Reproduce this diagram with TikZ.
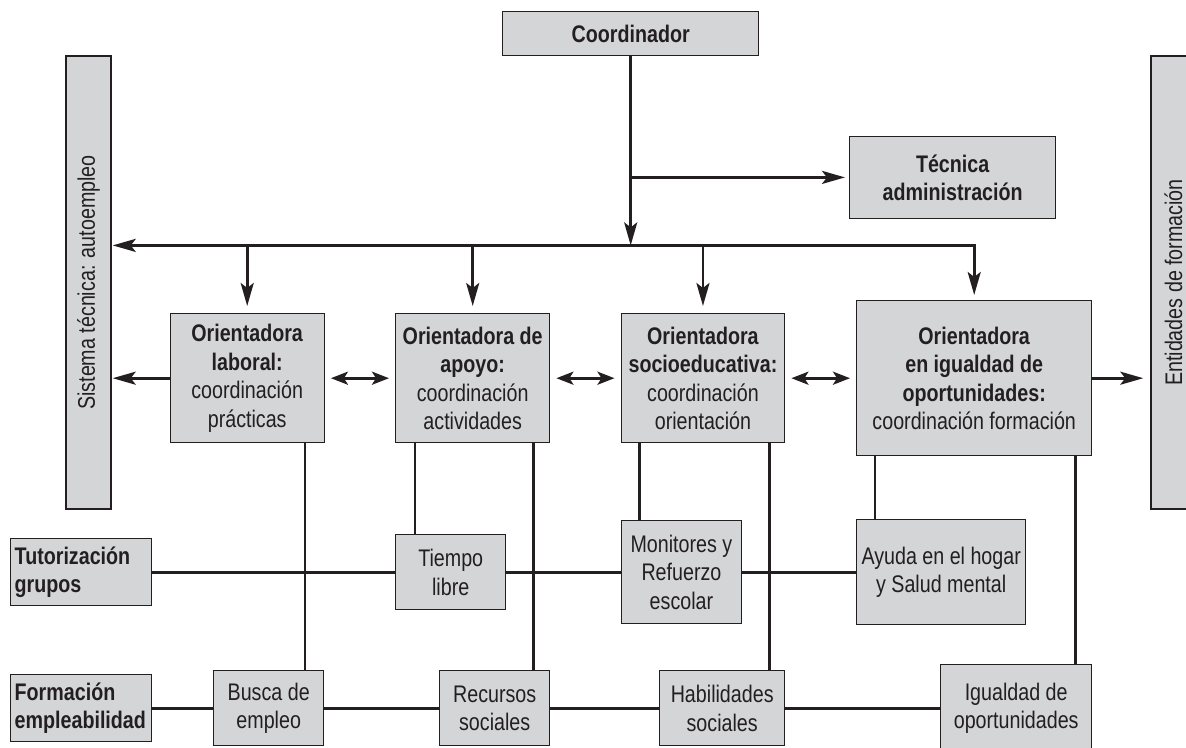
\documentclass[tikz,border=0pt]{standalone}
\usepackage{fontspec}
\setmainfont{Liberation Sans}[FakeStretch=0.82]
\usetikzlibrary{arrows.meta,calc}
\definecolor{boxgray}{HTML}{D4D5D7}
\definecolor{ink}{HTML}{231F20}

\begin{document}
\begin{tikzpicture}[x=1pt,y=-1pt,
  box/.style={draw=ink, fill=boxgray, line width=1.4pt, inner sep=0pt,
    align=center, font=\fontsize{24}{28.5}\selectfont, text=ink},
  nw/.style={anchor=north west},
  leftbox/.style={box, nw, align=left, text width=133pt, inner xsep=4pt},
  link/.style={draw=ink, line width=2.8pt},
  tip/.tip={Stealth[length=23pt,width=13pt,inset=5pt]},
  dtip/.tip={Stealth[length=17pt,width=13pt,inset=4pt]},
  arr/.style={link, -tip},
  darr/.style={link, dtip-dtip, shorten <=6pt, shorten >=6pt}
]
\useasboundingbox (0,0) rectangle (1186,747);

% top level
\node[box, nw, minimum width=256pt, minimum height=44pt] (coord) at (502,11) {\textbf{Coordinador}};
\node[box, nw, minimum width=206pt, minimum height=82pt] (tec) at (849,136) {\textbf{Técnica}\\\textbf{administración}};

% side panels (vertical text)
\node[box, rotate=90, minimum width=453pt, minimum height=45pt] (sis) at (88.5,282.5) {Sistema técnica: autoempleo};
\node[box, rotate=90, minimum width=453pt, minimum height=45pt] (ent) at (1173.5,282.5) {Entidades de formación};

% orientadoras
\node[box, nw, minimum width=154pt, minimum height=129pt] (lab) at (169.5,313)
  {\textbf{Orientadora}\\\textbf{laboral:}\\coordinación\\prácticas};
\node[box, nw, minimum width=154pt, minimum height=129pt] (apo) at (395,313)
  {\textbf{Orientadora de}\\\textbf{apoyo:}\\coordinación\\actividades};
\node[box, nw, minimum width=163.5pt, minimum height=129pt] (soc) at (620.5,313)
  {\textbf{Orientadora}\\\textbf{socioeducativa:}\\coordinación\\orientación};
\node[box, nw, minimum width=235pt, minimum height=155pt] (igu) at (856,300)
  {\textbf{Orientadora}\\\textbf{en igualdad de}\\\textbf{oportunidades:}\\coordinación formación};

% row labels
\node[leftbox, minimum width=141pt, minimum height=67pt] (tut) at (10,538) {\textbf{Tutorización}\\\textbf{grupos}};
\node[leftbox, minimum width=141pt, minimum height=67pt] (form) at (10,674) {\textbf{Formación}\\\textbf{empleabilidad}};

% tutorization row
\node[box, nw, minimum width=110pt, minimum height=75pt] (tie) at (395,534) {Tiempo\\libre};
\node[box, nw, minimum width=120.5pt, minimum height=103pt] (mon) at (620.5,520) {Monitores y\\Refuerzo\\escolar};
\node[box, nw, minimum width=169pt, minimum height=105pt] (ayu) at (856,519) {Ayuda en el hogar\\y Salud mental};

% training row
\node[box, nw, minimum width=110pt, minimum height=75pt] (bus) at (213,670) {Busca de\\empleo};
\node[box, nw, minimum width=110pt, minimum height=75pt] (rec) at (439,670) {Recursos\\sociales};
\node[box, nw, minimum width=125pt, minimum height=75pt] (hab) at (659,670) {Habilidades\\sociales};
\node[box, nw, minimum width=151pt, minimum height=87pt] (igo) at (940,664) {Igualdad de\\oportunidades};

% coordinator trunk
\coordinate (hub) at ($(coord.south)+(0,189)$);
\coordinate (tap) at ($(coord.south)+(0,121)$);
\draw[arr] (coord.south) -- (hub);
\draw[arr, shorten >=4pt] (tap) -- (tap -| tec.west);

% distribution bar
\draw[arr, shorten >=1pt] (hub) -- (sis.south |- hub);
\draw[arr, shorten >=5pt] (hub) -- (igu.north |- hub) -- (igu.north);
\draw[arr, shorten >=7pt] (lab.north |- hub) -- (lab.north);
\draw[arr, shorten >=7pt] (apo.north |- hub) -- (apo.north);
\draw[arr, shorten >=7pt] (soc.north |- hub) -- (soc.north);

% links between orientadoras
\draw[arr, shorten >=1pt] (lab.west) -- (sis.south |- lab.west);
\draw[darr] (lab.east) -- (apo.west);
\draw[darr] (apo.east) -- (soc.west);
\draw[darr] (soc.east) -- (igu.west);
\draw[arr, shorten >=7pt] (igu.east) -- (ent.north |- igu.east);

% drops to activities
\coordinate (d1) at ([xshift=-20pt]lab.south east);
\coordinate (d2) at ([xshift=20pt]apo.south west);
\coordinate (d3) at ([xshift=-17pt]apo.south east);
\coordinate (d4) at ([xshift=19pt]soc.south west);
\coordinate (d5) at ([xshift=-16pt]soc.south east);
\coordinate (d6) at ([xshift=19pt]igu.south west);
\coordinate (d7) at ([xshift=-17pt]igu.south east);
\draw[link] (d1) -- (d1 |- bus.north);
\draw[link] (d2) -- (d2 |- tie.north);
\draw[link] (d3) -- (d3 |- rec.north);
\draw[link] (d4) -- (d4 |- mon.north);
\draw[link] (d5) -- (d5 |- hab.north);
\draw[link] (d6) -- (d6 |- ayu.north);
\draw[link] (d7) -- (d7 |- igo.north);

% row lines
\draw[link] (tut.east) -- (tie.west);
\draw[link] (tie.east) -- (mon.west);
\draw[link] (mon.east) -- (ayu.west);
\draw[link] (form.east) -- (bus.west);
\draw[link] (bus.east) -- (rec.west);
\draw[link] (rec.east) -- (hab.west);
\draw[link] (hab.east) -- (igo.west);
\end{tikzpicture}
\end{document}
